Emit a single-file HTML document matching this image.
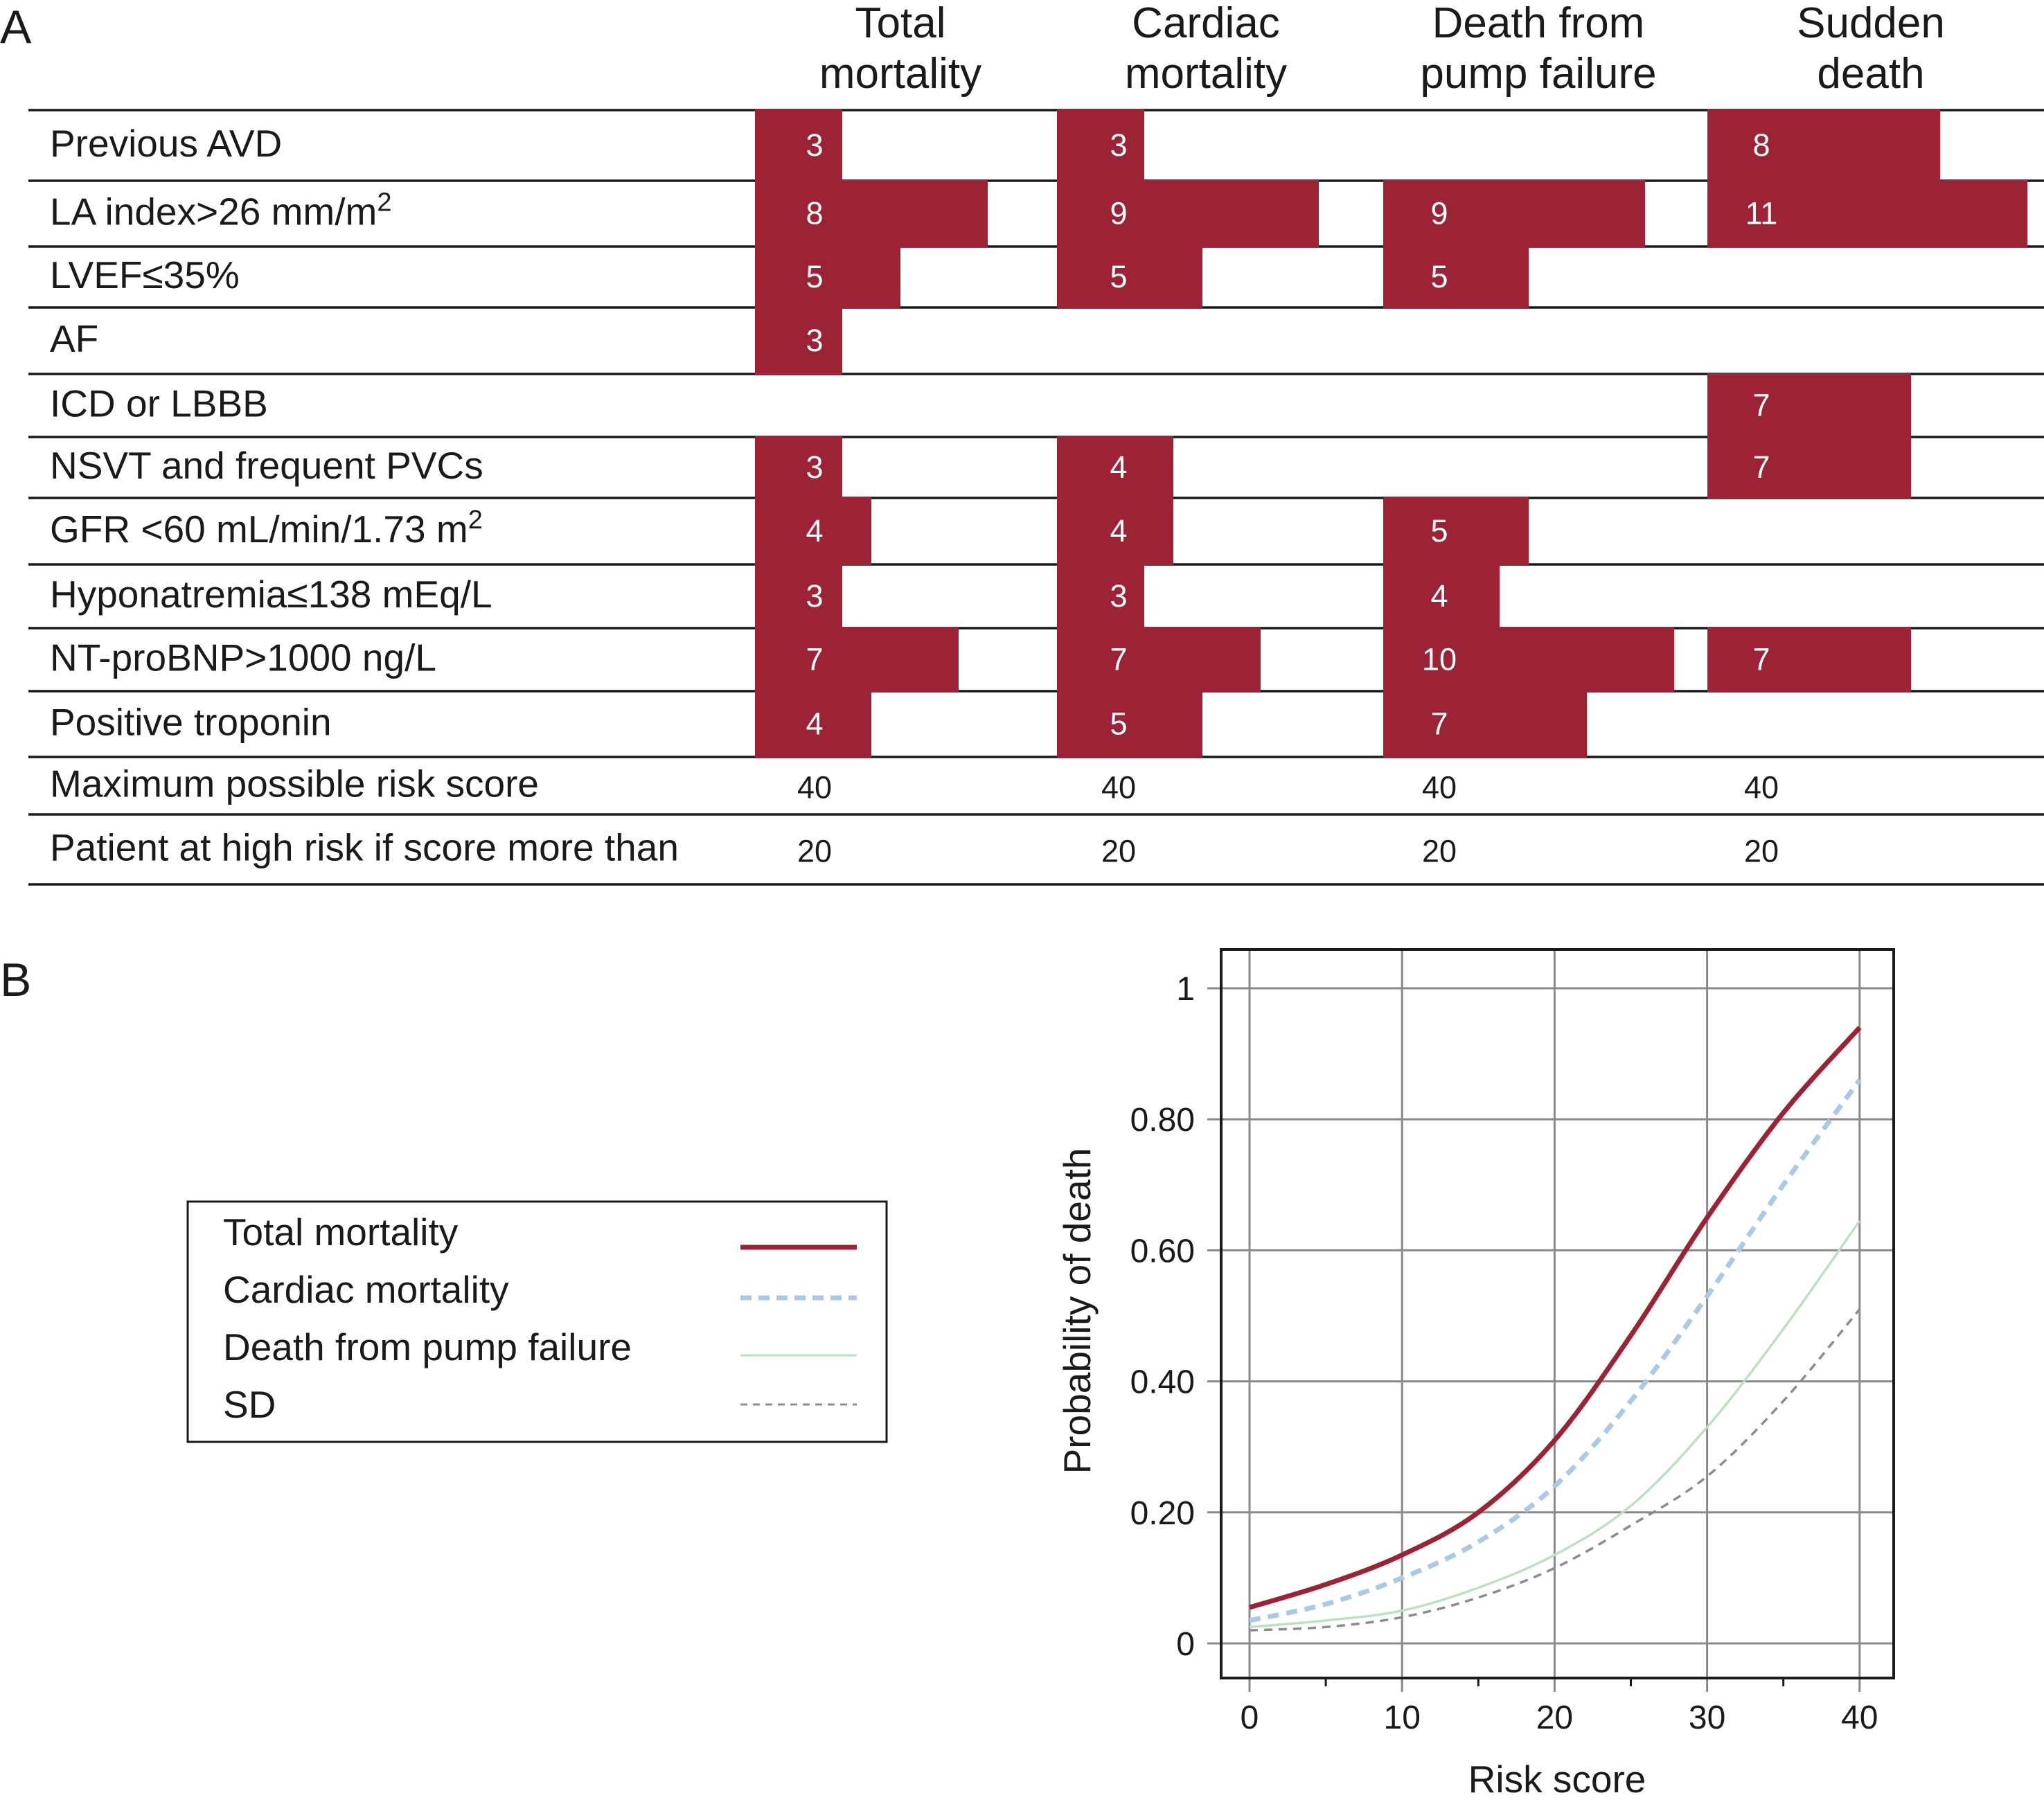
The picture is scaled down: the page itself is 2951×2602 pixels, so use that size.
<!DOCTYPE html>
<html><head><meta charset="utf-8"><style>
html,body{margin:0;padding:0;background:#fff;}
svg{display:block;font-family:"Liberation Sans",Arial,sans-serif;}
</style></head><body>
<svg id="fig" width="2951" height="2602" viewBox="0 0 2951 2602" xmlns="http://www.w3.org/2000/svg">
<text x="0" y="62" font-size="68" fill="#1a1a1a">A</text>
<text x="0" y="1438" font-size="68" fill="#1a1a1a">B</text>
<g id="table"></g>
<g id="legend">
<rect x="271" y="1735" width="1009" height="347" fill="none" stroke="#1a1a1a" stroke-width="3"/>
<text x="322" y="1798" font-size="55" fill="#1a1a1a">Total mortality</text>
<line x1="1069" y1="1801" x2="1237" y2="1801" stroke="#9b2335" stroke-width="7"/>
<text x="322" y="1881" font-size="55" fill="#1a1a1a">Cardiac mortality</text>
<line x1="1069" y1="1874" x2="1237" y2="1874" stroke="#a9c9e8" stroke-width="7" stroke-dasharray="16,10"/>
<text x="322" y="1964" font-size="55" fill="#1a1a1a">Death from pump failure</text>
<line x1="1069" y1="1957" x2="1237" y2="1957" stroke="#bfe0c0" stroke-width="3"/>
<text x="322" y="2047" font-size="55" fill="#1a1a1a">SD</text>
<line x1="1069" y1="2028" x2="1237" y2="2028" stroke="#8c8c8c" stroke-width="3" stroke-dasharray="10,8"/>
</g>
<g id="chart"></g>
</svg>
<script>
const rowLabels=["Previous AVD","LA index>26 mm/m|2","LVEF≤35%","AF","ICD or LBBB","NSVT and frequent PVCs","GFR <60 mL/min/1.73 m|2","Hyponatremia≤138 mEq/L","NT-proBNP>1000 ng/L","Positive troponin"];
const colHeaders=[["Total","mortality"],["Cardiac","mortality"],["Death from","pump failure"],["Sudden","death"]];
const totalPts=[3,8,5,3,0,3,4,3,7,4];
const cardiacPts=[3,9,5,0,0,4,4,3,7,5];
const pumpPts=[0,9,5,0,0,0,5,4,10,7];
const suddenPts=[8,11,0,0,7,7,0,0,7,0];
const maxScores=[40,40,40,40];
const highRisk=[20,20,20,20];
const NS="http://www.w3.org/2000/svg";
function mk(tag,attrs,parent){const e=document.createElementNS(NS,tag);for(const k in attrs)e.setAttribute(k,attrs[k]);parent.appendChild(e);return e;}
const T=document.getElementById('table');
const lineY=[159,261,356,444,540,631,719,815,907,998,1093,1176,1277];
const colX=[1090,1526,1997,2465];
const colCenters=[1300,1741,2221,2701];
const numX=[1176,1615,2078,2543];
const ptW=42;
const series=[totalPts,cardiacPts,pumpPts,suddenPts];
colHeaders.forEach((h,i)=>{
  const t=mk('text',{x:colCenters[i],y:54,'font-size':62,'text-anchor':'middle',fill:'#1a1a1a'},T);
  
  
  t.textContent=h[0];
  const t2=mk('text',{x:colCenters[i],y:127,'font-size':62,'text-anchor':'middle',fill:'#1a1a1a'},T);
  
  
  t2.textContent=h[1];
});
lineY.forEach(y=>{const l=mk('line',{x1:41,x2:2951,y1:y,y2:y,stroke:'#1a1a1a','stroke-width':3.5},T);
  
  });
rowLabels.forEach((lab,r)=>{
  const cy=(lineY[r]+lineY[r+1])/2;
  const t=mk('text',{x:72,y:cy+16,'font-size':55,fill:'#1a1a1a'},T);
  
  
  const parts=lab.split('|');
  t.appendChild(document.createTextNode(parts[0]));
  if(parts[1]){const s=mk('tspan',{dy:-20,'font-size':38},t);s.textContent=parts[1];}
  series.forEach((arr,c)=>{
    const v=arr[r]; if(!v) return;
    const b=mk('rect',{x:colX[c],y:lineY[r]-1,width:v*ptW,height:lineY[r+1]-lineY[r]+2,fill:'#9b2335'},T);
    
    
    const n=mk('text',{x:numX[c],y:cy+15,'font-size':45,'text-anchor':'middle',fill:'#fff'},T);
    
    
    n.textContent=v;
  });
});
const extra=[["Maximum possible risk score",maxScores],["Patient at high risk if score more than",highRisk]];
extra.forEach((e,k)=>{
  const y0=lineY[10+k],y1=lineY[11+k],cy=(y0+y1)/2;
  const t=mk('text',{x:72,y:cy+16,'font-size':55,fill:'#1a1a1a'},T);
  
  
  t.textContent=e[0];
  e[1].forEach((v,c)=>{const n=mk('text',{x:numX[c],y:cy+18,'font-size':45,'text-anchor':'middle',fill:'#1a1a1a'},T);
    
    
    n.textContent=v;});
});

// chart
const xScores=[0,5,10,15,20,25,30,35,40];
const totalProb=[0.055,0.09,0.135,0.20,0.31,0.47,0.65,0.81,0.94];
const cardiacProb=[0.035,0.06,0.10,0.155,0.24,0.37,0.53,0.70,0.86];
const pumpProb=[0.025,0.035,0.05,0.085,0.135,0.21,0.33,0.48,0.645];
const sdProb=[0.02,0.025,0.04,0.07,0.115,0.18,0.255,0.37,0.51];
const xTicks=[0,10,20,30,40];
const xMinor=[5,15,25,35];
const yTicks=[0,0.2,0.4,0.6,0.8,1];
const yTickLabels=["0","0.20","0.40","0.60","0.80","1"];
const C=document.getElementById('chart');
const X=v=>1804+v*22.02;
const Y=v=>2373-v*946;
const fx0=1763,fx1=2734,fy0=1371,fy1=2423;
xTicks.forEach(v=>{const g=mk('line',{x1:X(v),x2:X(v),y1:fy0,y2:fy1+20,stroke:'#8a8a8a','stroke-width':3},C);
  
  
  const t=mk('text',{x:X(v),y:2496,'font-size':48,'text-anchor':'middle',fill:'#1a1a1a'},C);
  
  
  t.textContent=v;});
xMinor.forEach(v=>{const g=mk('line',{x1:X(v),x2:X(v),y1:fy1,y2:fy1+12,stroke:'#1a1a1a','stroke-width':3},C);
  
  });
yTicks.forEach((v,i)=>{const g=mk('line',{x1:fx0-20,x2:fx1,y1:Y(v),y2:Y(v),stroke:'#8a8a8a','stroke-width':3},C);
  
  
  const t=mk('text',{x:1725,y:Y(v)+17,'font-size':48,'text-anchor':'end',fill:'#1a1a1a'},C);
  
  
  t.textContent=yTickLabels[i];});
const fr=mk('rect',{x:fx0,y:fy0,width:fx1-fx0,height:fy1-fy0,fill:'none',stroke:'#1a1a1a','stroke-width':4},C);


function pathFor(ys){
  const p=xScores.map((x,i)=>[X(x),Y(ys[i])]);
  let d=`M${p[0][0]},${p[0][1]}`;
  for(let i=0;i<p.length-1;i++){
    const p0=p[Math.max(0,i-1)],p1=p[i],p2=p[i+1],p3=p[Math.min(p.length-1,i+2)];
    const c1=[p1[0]+(p2[0]-p0[0])/6,p1[1]+(p2[1]-p0[1])/6];
    const c2=[p2[0]-(p3[0]-p1[0])/6,p2[1]-(p3[1]-p1[1])/6];
    d+=` C${c1[0]},${c1[1]} ${c2[0]},${c2[1]} ${p2[0]},${p2[1]}`;
  }
  return d;
}
const sd=mk('path',{d:pathFor(sdProb),fill:'none',stroke:'#8c8c8c','stroke-width':3.5,'stroke-dasharray':'12,9'},C);


const pu=mk('path',{d:pathFor(pumpProb),fill:'none',stroke:'#bfe0c0','stroke-width':3.5},C);


const ca=mk('path',{d:pathFor(cardiacProb),fill:'none',stroke:'#a9c9e8','stroke-width':7,'stroke-dasharray':'16,11'},C);


const to=mk('path',{d:pathFor(totalProb),fill:'none',stroke:'#9b2335','stroke-width':7},C);


const xt=mk('text',{x:2248,y:2588,'font-size':55,'text-anchor':'middle',fill:'#1a1a1a'},C);


xt.textContent='Risk score';
const yt=mk('text',{x:0,y:0,'font-size':55,'text-anchor':'middle',fill:'#1a1a1a',transform:'translate(1574,1893) rotate(-90)'},C);


yt.textContent='Probability of death';
</script>
</body></html>
